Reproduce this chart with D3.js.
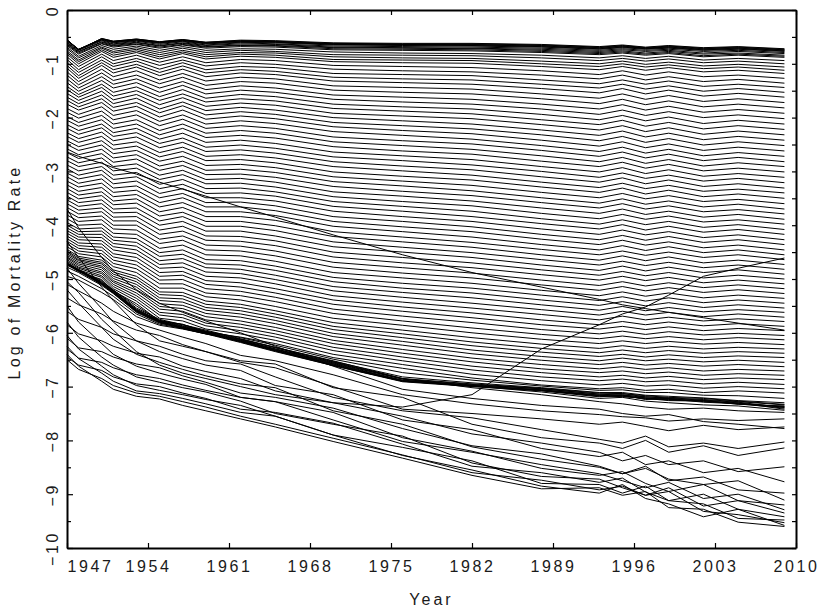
<!DOCTYPE html>
<html>
<head>
<meta charset="utf-8">
<script src="https://cdn.jsdelivr.net/npm/d3@7"></script>
<style>
body { margin: 0; background: #fff; }
text { font-family: "Liberation Sans", Arial, sans-serif; fill: #1a1a1a; }
</style>
</head>
<body>
<svg id="chart" width="820" height="614"></svg>
<script>
const years = [1947, 1948, 1950, 1951, 1953, 1955, 1957, 1959, 1962, 1965, 1970, 1976, 1982, 1988, 1993, 1995, 1997, 1999, 2002, 2005, 2009];

// one row per age, 0 .. 110
const logRates = [
  [-2.64, -2.72, -2.85, -2.93, -3.05, -3.20, -3.33, -3.46, -3.66, -3.85, -4.18, -4.55, -4.88, -5.15, -5.38, -5.48, -5.55, -5.62, -5.72, -5.82, -5.95],
  [-3.70, -4.05, -4.60, -4.85, -5.20, -5.45, -5.62, -5.78, -6.00, -6.25, -6.62, -7.05, -7.22, -7.35, -7.42, -7.50, -7.55, -7.52, -7.65, -7.70, -7.78],
  [-4.30, -4.60, -5.15, -5.40, -5.85, -6.15, -6.25, -6.35, -6.52, -6.58, -7.02, -7.20, -7.70, -7.95, -8.05, -8.15, -8.00, -8.22, -8.10, -8.28, -8.14],
  [-4.80, -5.08, -5.55, -5.80, -6.15, -6.35, -6.48, -6.60, -6.70, -6.98, -7.15, -7.62, -7.80, -8.15, -8.30, -8.22, -8.45, -8.38, -8.60, -8.52, -8.77],
  [-5.20, -5.45, -5.90, -6.12, -6.40, -6.55, -6.68, -6.80, -6.95, -7.02, -7.45, -7.70, -8.12, -8.35, -8.50, -8.62, -8.48, -8.75, -8.68, -8.92, -8.98],
  [-5.50, -5.80, -6.20, -6.40, -6.62, -6.75, -6.86, -6.96, -7.20, -7.28, -7.48, -7.95, -8.20, -8.52, -8.65, -8.58, -8.80, -8.95, -8.82, -9.12, -9.20],
  [-5.80, -6.08, -6.45, -6.60, -6.82, -6.92, -7.02, -7.10, -7.27, -7.50, -7.70, -7.92, -8.42, -8.67, -8.72, -8.88, -9.02, -8.88, -9.22, -9.12, -9.35],
  [-6.05, -6.30, -6.62, -6.78, -6.98, -7.07, -7.15, -7.24, -7.35, -7.55, -7.90, -8.13, -8.38, -8.80, -8.82, -8.98, -8.85, -9.12, -9.18, -9.45, -9.48],
  [-6.25, -6.48, -6.75, -6.90, -7.08, -7.13, -7.22, -7.32, -7.48, -7.55, -7.90, -8.28, -8.55, -8.85, -8.98, -8.82, -9.08, -9.18, -9.42, -9.28, -9.58],
  [-6.40, -6.62, -6.90, -7.05, -7.18, -7.23, -7.35, -7.45, -7.60, -7.75, -8.02, -8.33, -8.65, -8.90, -8.88, -9.02, -8.95, -9.25, -9.28, -9.52, -9.60],
  [-6.50, -6.68, -6.85, -6.98, -7.12, -7.18, -7.28, -7.38, -7.55, -7.70, -7.96, -8.27, -8.60, -8.74, -8.92, -8.85, -9.02, -8.95, -9.32, -9.38, -9.53],
  [-6.45, -6.60, -6.70, -6.82, -6.95, -7.00, -7.12, -7.22, -7.42, -7.48, -7.68, -8.07, -8.48, -8.60, -8.78, -8.70, -8.96, -9.12, -9.00, -9.28, -9.42],
  [-6.30, -6.47, -6.55, -6.65, -6.78, -6.85, -6.97, -7.07, -7.20, -7.28, -7.62, -8.02, -8.22, -8.45, -8.62, -8.75, -8.88, -8.78, -9.08, -9.00, -9.29],
  [-6.10, -6.28, -6.35, -6.45, -6.58, -6.65, -6.80, -6.92, -7.12, -7.20, -7.40, -7.78, -8.10, -8.25, -8.48, -8.62, -8.52, -8.72, -8.82, -8.75, -9.11],
  [-5.85, -6.02, -6.15, -6.25, -6.38, -6.45, -6.62, -6.72, -6.85, -7.08, -7.30, -7.55, -7.88, -8.05, -8.22, -8.38, -8.28, -8.45, -8.38, -8.58, -8.49],
  [-5.60, -5.75, -5.90, -6.02, -6.15, -6.25, -6.40, -6.52, -6.58, -6.82, -7.20, -7.45, -7.58, -7.80, -7.98, -8.05, -7.92, -8.12, -8.05, -8.15, -8.03],
  [-5.35, -5.48, -5.65, -5.78, -5.95, -6.05, -6.22, -6.35, -6.55, -6.65, -7.00, -7.42, -7.50, -7.60, -7.70, -7.66, -7.74, -7.82, -7.72, -7.80, -7.75],
  [-5.10, -5.22, -5.45, -5.60, -5.82, -5.95, -6.08, -6.20, -6.42, -6.52, -6.78, -7.15, -7.32, -7.45, -7.52, -7.56, -7.58, -7.64, -7.60, -7.63, -7.60],
  [-4.95, -5.02, -5.25, -5.38, -5.70, -5.86, -5.93, -6.02, -6.12, -6.27, -6.52, -6.85, -7.02, -7.15, -7.28, -7.32, -7.38, -7.42, -7.40, -7.45, -7.48],
  [-4.85, -4.95, -5.18, -5.32, -5.65, -5.84, -5.92, -6.02, -6.14, -6.30, -6.55, -6.86, -6.99, -7.10, -7.22, -7.20, -7.27, -7.30, -7.34, -7.36, -7.44],
  [-4.78, -4.88, -5.12, -5.27, -5.62, -5.82, -5.91, -6.01, -6.15, -6.32, -6.58, -6.89, -6.98, -7.07, -7.17, -7.17, -7.23, -7.22, -7.28, -7.31, -7.38],
  [-4.74, -4.86, -5.10, -5.26, -5.61, -5.80, -5.90, -5.99, -6.16, -6.33, -6.60, -6.90, -6.99, -7.06, -7.16, -7.19, -7.21, -7.25, -7.26, -7.33, -7.36],
  [-4.72, -4.84, -5.09, -5.24, -5.59, -5.79, -5.91, -6.01, -6.17, -6.34, -6.61, -6.91, -7.00, -7.08, -7.19, -7.16, -7.24, -7.23, -7.29, -7.32, -7.40],
  [-4.72, -4.84, -5.10, -5.26, -5.60, -5.81, -5.92, -6.02, -6.18, -6.35, -6.61, -6.90, -6.99, -7.07, -7.18, -7.18, -7.22, -7.26, -7.27, -7.30, -7.42],
  [-4.73, -4.83, -5.08, -5.23, -5.58, -5.79, -5.90, -6.00, -6.16, -6.33, -6.59, -6.89, -6.98, -7.06, -7.16, -7.15, -7.21, -7.24, -7.26, -7.32, -7.37],
  [-4.73, -4.84, -5.09, -5.25, -5.59, -5.80, -5.89, -5.99, -6.15, -6.31, -6.57, -6.88, -6.97, -7.04, -7.14, -7.16, -7.19, -7.22, -7.25, -7.29, -7.39],
  [-4.72, -4.83, -5.07, -5.22, -5.57, -5.78, -5.88, -5.98, -6.13, -6.30, -6.56, -6.86, -6.96, -7.04, -7.14, -7.13, -7.19, -7.21, -7.24, -7.28, -7.34],
  [-4.72, -4.83, -5.06, -5.22, -5.56, -5.77, -5.87, -5.97, -6.12, -6.28, -6.54, -6.85, -6.95, -7.03, -7.12, -7.13, -7.17, -7.20, -7.22, -7.27, -7.33],
  [-4.71, -4.82, -5.05, -5.20, -5.54, -5.75, -5.85, -5.95, -6.11, -6.27, -6.53, -6.82, -6.93, -7.02, -7.11, -7.11, -7.16, -7.18, -7.21, -7.26, -7.30],
  [-4.71, -4.84, -5.03, -5.21, -5.50, -5.77, -5.85, -5.97, -6.09, -6.23, -6.49, -6.74, -6.88, -6.99, -7.07, -7.06, -7.11, -7.11, -7.16, -7.17, -7.22],
  [-4.72, -4.86, -5.01, -5.22, -5.46, -5.78, -5.84, -5.99, -6.08, -6.20, -6.46, -6.66, -6.84, -6.97, -7.04, -7.02, -7.07, -7.05, -7.11, -7.08, -7.12],
  [-4.69, -4.83, -4.97, -5.18, -5.41, -5.73, -5.78, -5.93, -6.02, -6.14, -6.40, -6.59, -6.77, -6.89, -6.97, -6.94, -6.99, -6.97, -7.03, -7.00, -7.04],
  [-4.67, -4.80, -4.94, -5.14, -5.36, -5.67, -5.72, -5.87, -5.96, -6.08, -6.33, -6.52, -6.69, -6.82, -6.89, -6.86, -6.91, -6.89, -6.95, -6.92, -6.96],
  [-4.64, -4.78, -4.90, -5.10, -5.31, -5.62, -5.66, -5.82, -5.90, -6.02, -6.27, -6.45, -6.62, -6.74, -6.82, -6.79, -6.84, -6.81, -6.87, -6.84, -6.87],
  [-4.61, -4.75, -4.87, -5.06, -5.26, -5.56, -5.60, -5.76, -5.84, -5.96, -6.20, -6.38, -6.54, -6.67, -6.74, -6.71, -6.76, -6.73, -6.79, -6.76, -6.79],
  [-4.59, -4.72, -4.83, -5.03, -5.21, -5.51, -5.55, -5.70, -5.78, -5.90, -6.14, -6.31, -6.47, -6.59, -6.67, -6.63, -6.68, -6.65, -6.71, -6.68, -6.71],
  [-4.56, -4.69, -4.79, -4.99, -5.15, -5.46, -5.49, -5.64, -5.71, -5.83, -6.07, -6.23, -6.39, -6.51, -6.59, -6.55, -6.60, -6.57, -6.62, -6.59, -6.63],
  [-4.53, -4.66, -4.76, -4.95, -5.10, -5.40, -5.43, -5.58, -5.65, -5.77, -6.01, -6.16, -6.32, -6.44, -6.52, -6.47, -6.52, -6.49, -6.54, -6.51, -6.55],
  [-4.50, -4.64, -4.72, -4.91, -5.05, -5.35, -5.37, -5.53, -5.59, -5.71, -5.94, -6.09, -6.24, -6.36, -6.44, -6.40, -6.45, -6.41, -6.46, -6.43, -6.46],
  [-4.48, -4.61, -4.69, -4.87, -5.00, -5.29, -5.31, -5.47, -5.53, -5.65, -5.88, -6.02, -6.17, -6.29, -6.37, -6.32, -6.37, -6.33, -6.38, -6.35, -6.38],
  [-4.45, -4.58, -4.65, -4.83, -4.95, -5.24, -5.25, -5.41, -5.47, -5.59, -5.81, -5.95, -6.09, -6.21, -6.29, -6.24, -6.29, -6.25, -6.30, -6.27, -6.30],
  [-4.40, -4.53, -4.59, -4.77, -4.88, -5.17, -5.17, -5.33, -5.39, -5.51, -5.73, -5.86, -6.00, -6.12, -6.20, -6.15, -6.20, -6.16, -6.21, -6.18, -6.22],
  [-4.35, -4.48, -4.53, -4.71, -4.81, -5.09, -5.09, -5.26, -5.31, -5.42, -5.64, -5.78, -5.91, -6.03, -6.11, -6.06, -6.11, -6.07, -6.13, -6.09, -6.13],
  [-4.30, -4.43, -4.47, -4.65, -4.74, -5.02, -5.01, -5.18, -5.23, -5.34, -5.56, -5.69, -5.81, -5.94, -6.02, -5.97, -6.03, -5.98, -6.04, -6.01, -6.05],
  [-4.25, -4.38, -4.41, -4.59, -4.67, -4.95, -4.93, -5.10, -5.15, -5.26, -5.47, -5.60, -5.72, -5.85, -5.93, -5.88, -5.94, -5.89, -5.96, -5.92, -5.96],
  [-4.20, -4.33, -4.35, -4.53, -4.60, -4.88, -4.86, -5.03, -5.07, -5.18, -5.39, -5.52, -5.63, -5.76, -5.85, -5.79, -5.85, -5.80, -5.87, -5.83, -5.88],
  [-4.15, -4.27, -4.29, -4.46, -4.53, -4.80, -4.78, -4.95, -4.98, -5.09, -5.31, -5.43, -5.54, -5.66, -5.76, -5.69, -5.76, -5.71, -5.78, -5.74, -5.79],
  [-4.10, -4.22, -4.23, -4.40, -4.46, -4.73, -4.70, -4.87, -4.90, -5.01, -5.22, -5.34, -5.45, -5.57, -5.67, -5.60, -5.67, -5.62, -5.70, -5.65, -5.71],
  [-4.05, -4.17, -4.17, -4.34, -4.39, -4.66, -4.62, -4.79, -4.82, -4.93, -5.14, -5.25, -5.35, -5.48, -5.58, -5.51, -5.59, -5.53, -5.61, -5.57, -5.62],
  [-4.00, -4.12, -4.11, -4.28, -4.32, -4.58, -4.54, -4.72, -4.74, -4.84, -5.05, -5.17, -5.26, -5.39, -5.49, -5.42, -5.50, -5.44, -5.53, -5.48, -5.54],
  [-3.95, -4.07, -4.05, -4.22, -4.25, -4.51, -4.46, -4.64, -4.66, -4.76, -4.97, -5.08, -5.17, -5.30, -5.40, -5.33, -5.41, -5.35, -5.44, -5.39, -5.45],
  [-3.88, -4.00, -3.98, -4.15, -4.17, -4.43, -4.37, -4.55, -4.57, -4.67, -4.88, -4.98, -5.08, -5.21, -5.31, -5.24, -5.32, -5.26, -5.35, -5.30, -5.36],
  [-3.81, -3.93, -3.90, -4.07, -4.09, -4.34, -4.28, -4.46, -4.48, -4.57, -4.78, -4.89, -4.98, -5.11, -5.21, -5.14, -5.22, -5.16, -5.25, -5.20, -5.27],
  [-3.74, -3.86, -3.83, -4.00, -4.00, -4.26, -4.20, -4.37, -4.39, -4.48, -4.69, -4.79, -4.89, -5.02, -5.12, -5.05, -5.13, -5.07, -5.16, -5.11, -5.18],
  [-3.67, -3.79, -3.75, -3.92, -3.92, -4.17, -4.11, -4.28, -4.30, -4.38, -4.59, -4.70, -4.79, -4.92, -5.02, -4.95, -5.03, -4.97, -5.07, -5.02, -5.09],
  [-3.60, -3.72, -3.68, -3.85, -3.84, -4.09, -4.02, -4.20, -4.21, -4.29, -4.50, -4.60, -4.70, -4.83, -4.93, -4.86, -4.94, -4.88, -4.98, -4.93, -5.00],
  [-3.53, -3.65, -3.60, -3.77, -3.76, -4.00, -3.93, -4.11, -4.11, -4.20, -4.40, -4.50, -4.60, -4.74, -4.84, -4.76, -4.85, -4.78, -4.88, -4.83, -4.91],
  [-3.46, -3.58, -3.53, -3.70, -3.68, -3.92, -3.84, -4.02, -4.02, -4.10, -4.31, -4.41, -4.51, -4.64, -4.74, -4.67, -4.75, -4.69, -4.79, -4.74, -4.82],
  [-3.39, -3.51, -3.45, -3.62, -3.59, -3.83, -3.76, -3.93, -3.93, -4.01, -4.21, -4.31, -4.41, -4.55, -4.65, -4.57, -4.66, -4.59, -4.70, -4.65, -4.73],
  [-3.32, -3.44, -3.38, -3.55, -3.51, -3.75, -3.67, -3.84, -3.84, -3.91, -4.12, -4.22, -4.32, -4.45, -4.55, -4.48, -4.56, -4.50, -4.60, -4.55, -4.64],
  [-3.25, -3.37, -3.30, -3.47, -3.43, -3.66, -3.58, -3.75, -3.75, -3.82, -4.02, -4.12, -4.22, -4.36, -4.46, -4.38, -4.47, -4.40, -4.51, -4.46, -4.55],
  [-3.18, -3.29, -3.22, -3.39, -3.35, -3.58, -3.49, -3.66, -3.66, -3.73, -3.93, -4.03, -4.12, -4.26, -4.36, -4.28, -4.37, -4.31, -4.42, -4.37, -4.46],
  [-3.10, -3.22, -3.14, -3.31, -3.27, -3.49, -3.41, -3.58, -3.57, -3.64, -3.84, -3.93, -4.03, -4.17, -4.27, -4.19, -4.28, -4.21, -4.32, -4.27, -4.36],
  [-3.03, -3.14, -3.06, -3.23, -3.18, -3.41, -3.32, -3.49, -3.49, -3.55, -3.74, -3.84, -3.93, -4.07, -4.17, -4.09, -4.18, -4.12, -4.23, -4.18, -4.27],
  [-2.95, -3.07, -2.98, -3.15, -3.10, -3.32, -3.24, -3.41, -3.40, -3.46, -3.65, -3.74, -3.84, -3.97, -4.07, -3.99, -4.09, -4.02, -4.13, -4.08, -4.17],
  [-2.88, -2.99, -2.91, -3.07, -3.02, -3.24, -3.15, -3.32, -3.31, -3.38, -3.56, -3.65, -3.74, -3.88, -3.98, -3.90, -3.99, -3.93, -4.04, -3.99, -4.08],
  [-2.80, -2.91, -2.83, -2.99, -2.94, -3.15, -3.06, -3.23, -3.22, -3.29, -3.47, -3.56, -3.64, -3.78, -3.88, -3.80, -3.89, -3.83, -3.94, -3.90, -3.98],
  [-2.73, -2.84, -2.75, -2.91, -2.86, -3.07, -2.98, -3.15, -3.13, -3.20, -3.38, -3.46, -3.55, -3.68, -3.78, -3.70, -3.80, -3.74, -3.85, -3.80, -3.89],
  [-2.65, -2.76, -2.67, -2.83, -2.77, -2.98, -2.89, -3.06, -3.05, -3.11, -3.28, -3.37, -3.45, -3.58, -3.68, -3.60, -3.70, -3.64, -3.75, -3.71, -3.79],
  [-2.58, -2.69, -2.59, -2.75, -2.69, -2.90, -2.81, -2.98, -2.96, -3.02, -3.19, -3.27, -3.36, -3.49, -3.59, -3.51, -3.61, -3.55, -3.66, -3.61, -3.70],
  [-2.50, -2.61, -2.51, -2.67, -2.61, -2.81, -2.72, -2.89, -2.87, -2.93, -3.10, -3.18, -3.26, -3.39, -3.49, -3.41, -3.51, -3.45, -3.56, -3.52, -3.60],
  [-2.43, -2.54, -2.43, -2.59, -2.53, -2.73, -2.63, -2.80, -2.78, -2.84, -3.01, -3.09, -3.16, -3.29, -3.39, -3.31, -3.42, -3.35, -3.47, -3.42, -3.50],
  [-2.35, -2.46, -2.35, -2.51, -2.45, -2.65, -2.55, -2.72, -2.69, -2.75, -2.91, -2.99, -3.07, -3.20, -3.30, -3.22, -3.32, -3.26, -3.37, -3.33, -3.40],
  [-2.28, -2.39, -2.27, -2.43, -2.36, -2.56, -2.46, -2.63, -2.60, -2.66, -2.82, -2.90, -2.97, -3.10, -3.20, -3.12, -3.23, -3.16, -3.28, -3.23, -3.31],
  [-2.20, -2.31, -2.19, -2.35, -2.28, -2.48, -2.38, -2.55, -2.51, -2.57, -2.73, -2.80, -2.88, -3.00, -3.11, -3.03, -3.13, -3.07, -3.18, -3.13, -3.21],
  [-2.13, -2.24, -2.12, -2.28, -2.20, -2.40, -2.29, -2.46, -2.42, -2.48, -2.64, -2.71, -2.78, -2.91, -3.01, -2.93, -3.04, -2.97, -3.09, -3.04, -3.11],
  [-2.05, -2.16, -2.04, -2.20, -2.12, -2.32, -2.20, -2.37, -2.33, -2.38, -2.54, -2.62, -2.68, -2.81, -2.91, -2.83, -2.94, -2.87, -2.99, -2.94, -3.01],
  [-1.98, -2.09, -1.96, -2.12, -2.04, -2.24, -2.12, -2.29, -2.24, -2.29, -2.45, -2.52, -2.59, -2.71, -2.82, -2.74, -2.85, -2.78, -2.90, -2.84, -2.91],
  [-1.90, -2.01, -1.88, -2.04, -1.95, -2.15, -2.03, -2.20, -2.15, -2.20, -2.36, -2.43, -2.49, -2.61, -2.72, -2.64, -2.75, -2.68, -2.80, -2.74, -2.82],
  [-1.83, -1.94, -1.80, -1.96, -1.87, -2.07, -1.95, -2.12, -2.06, -2.11, -2.26, -2.33, -2.40, -2.52, -2.63, -2.55, -2.66, -2.59, -2.71, -2.65, -2.72],
  [-1.75, -1.86, -1.72, -1.88, -1.79, -1.99, -1.86, -2.03, -1.97, -2.02, -2.17, -2.24, -2.30, -2.42, -2.53, -2.45, -2.56, -2.49, -2.61, -2.55, -2.62],
  [-1.68, -1.80, -1.65, -1.81, -1.72, -1.91, -1.78, -1.95, -1.89, -1.94, -2.09, -2.15, -2.21, -2.32, -2.43, -2.35, -2.46, -2.39, -2.51, -2.45, -2.52],
  [-1.62, -1.74, -1.58, -1.74, -1.64, -1.84, -1.71, -1.87, -1.81, -1.86, -2.00, -2.06, -2.12, -2.23, -2.33, -2.25, -2.36, -2.29, -2.41, -2.35, -2.42],
  [-1.55, -1.68, -1.51, -1.67, -1.57, -1.76, -1.63, -1.79, -1.73, -1.77, -1.92, -1.97, -2.02, -2.13, -2.23, -2.15, -2.26, -2.19, -2.31, -2.25, -2.32],
  [-1.48, -1.62, -1.44, -1.60, -1.50, -1.68, -1.56, -1.71, -1.65, -1.69, -1.83, -1.88, -1.93, -2.04, -2.13, -2.05, -2.16, -2.09, -2.21, -2.15, -2.22],
  [-1.42, -1.57, -1.38, -1.53, -1.43, -1.61, -1.48, -1.64, -1.57, -1.61, -1.75, -1.80, -1.84, -1.94, -2.04, -1.96, -2.06, -1.99, -2.11, -2.05, -2.12],
  [-1.35, -1.51, -1.31, -1.45, -1.35, -1.53, -1.40, -1.56, -1.49, -1.53, -1.66, -1.71, -1.75, -1.84, -1.94, -1.86, -1.96, -1.89, -2.00, -1.95, -2.02],
  [-1.28, -1.45, -1.24, -1.38, -1.28, -1.45, -1.33, -1.48, -1.41, -1.45, -1.58, -1.62, -1.66, -1.75, -1.84, -1.76, -1.86, -1.79, -1.90, -1.85, -1.92],
  [-1.21, -1.39, -1.17, -1.31, -1.21, -1.37, -1.25, -1.40, -1.33, -1.36, -1.49, -1.53, -1.56, -1.65, -1.74, -1.66, -1.76, -1.69, -1.80, -1.75, -1.82],
  [-1.15, -1.33, -1.10, -1.24, -1.13, -1.30, -1.18, -1.32, -1.25, -1.28, -1.41, -1.44, -1.47, -1.56, -1.64, -1.56, -1.66, -1.59, -1.70, -1.65, -1.72],
  [-1.08, -1.27, -1.03, -1.17, -1.06, -1.22, -1.10, -1.24, -1.17, -1.20, -1.32, -1.35, -1.38, -1.46, -1.54, -1.46, -1.56, -1.49, -1.60, -1.55, -1.62],
  [-1.03, -1.22, -0.98, -1.11, -1.01, -1.16, -1.04, -1.17, -1.11, -1.14, -1.25, -1.28, -1.30, -1.38, -1.45, -1.38, -1.47, -1.41, -1.51, -1.46, -1.53],
  [-0.98, -1.16, -0.93, -1.05, -0.95, -1.10, -0.98, -1.11, -1.05, -1.07, -1.18, -1.20, -1.22, -1.30, -1.37, -1.30, -1.38, -1.32, -1.42, -1.38, -1.44],
  [-0.92, -1.11, -0.87, -1.00, -0.90, -1.03, -0.93, -1.04, -0.98, -1.01, -1.10, -1.13, -1.15, -1.21, -1.28, -1.21, -1.30, -1.24, -1.33, -1.29, -1.36],
  [-0.87, -1.05, -0.82, -0.94, -0.84, -0.97, -0.87, -0.98, -0.92, -0.94, -1.03, -1.05, -1.07, -1.13, -1.20, -1.13, -1.21, -1.15, -1.24, -1.21, -1.27],
  [-0.82, -1.00, -0.77, -0.88, -0.79, -0.91, -0.81, -0.91, -0.86, -0.88, -0.96, -0.98, -0.99, -1.05, -1.11, -1.05, -1.12, -1.07, -1.15, -1.12, -1.18],
  [-0.79, -0.96, -0.74, -0.84, -0.76, -0.87, -0.78, -0.87, -0.82, -0.84, -0.92, -0.93, -0.94, -1.00, -1.05, -1.00, -1.06, -1.02, -1.09, -1.06, -1.12],
  [-0.76, -0.93, -0.71, -0.80, -0.73, -0.83, -0.75, -0.83, -0.79, -0.80, -0.87, -0.89, -0.90, -0.95, -1.00, -0.95, -1.01, -0.97, -1.04, -1.01, -1.06],
  [-0.72, -0.89, -0.69, -0.77, -0.70, -0.79, -0.71, -0.79, -0.75, -0.77, -0.83, -0.84, -0.85, -0.89, -0.94, -0.90, -0.95, -0.91, -0.98, -0.95, -1.00],
  [-0.69, -0.86, -0.66, -0.73, -0.67, -0.75, -0.68, -0.75, -0.72, -0.73, -0.78, -0.80, -0.81, -0.84, -0.89, -0.85, -0.90, -0.86, -0.93, -0.90, -0.94],
  [-0.66, -0.82, -0.63, -0.69, -0.64, -0.71, -0.65, -0.71, -0.68, -0.69, -0.74, -0.75, -0.76, -0.79, -0.83, -0.80, -0.84, -0.81, -0.87, -0.84, -0.88],
  [-0.64, -0.80, -0.62, -0.67, -0.63, -0.69, -0.64, -0.69, -0.66, -0.67, -0.72, -0.73, -0.74, -0.77, -0.81, -0.78, -0.82, -0.79, -0.85, -0.82, -0.86],
  [-0.63, -0.78, -0.60, -0.66, -0.61, -0.67, -0.62, -0.68, -0.65, -0.66, -0.70, -0.71, -0.72, -0.75, -0.79, -0.76, -0.80, -0.77, -0.82, -0.80, -0.84],
  [-0.61, -0.77, -0.59, -0.64, -0.60, -0.66, -0.61, -0.66, -0.63, -0.64, -0.69, -0.70, -0.71, -0.73, -0.77, -0.74, -0.77, -0.75, -0.80, -0.77, -0.81],
  [-0.60, -0.75, -0.57, -0.63, -0.58, -0.64, -0.59, -0.65, -0.61, -0.63, -0.67, -0.68, -0.69, -0.71, -0.75, -0.72, -0.75, -0.73, -0.77, -0.75, -0.79],
  [-0.58, -0.73, -0.56, -0.61, -0.57, -0.62, -0.58, -0.63, -0.60, -0.61, -0.65, -0.66, -0.67, -0.69, -0.73, -0.70, -0.73, -0.71, -0.75, -0.73, -0.77],
  [-0.57, -0.73, -0.55, -0.60, -0.56, -0.61, -0.57, -0.62, -0.59, -0.60, -0.64, -0.65, -0.66, -0.68, -0.72, -0.69, -0.72, -0.70, -0.74, -0.72, -0.76],
  [-0.56, -0.73, -0.54, -0.59, -0.55, -0.60, -0.56, -0.61, -0.58, -0.59, -0.63, -0.64, -0.65, -0.67, -0.71, -0.68, -0.71, -0.69, -0.73, -0.71, -0.75],
  [-0.56, -0.74, -0.54, -0.59, -0.55, -0.60, -0.56, -0.61, -0.58, -0.59, -0.63, -0.64, -0.64, -0.66, -0.70, -0.67, -0.71, -0.68, -0.72, -0.70, -0.74],
  [-0.55, -0.74, -0.53, -0.58, -0.54, -0.59, -0.55, -0.60, -0.57, -0.58, -0.62, -0.63, -0.63, -0.65, -0.69, -0.66, -0.70, -0.67, -0.71, -0.69, -0.73],
  [-0.55, -0.74, -0.53, -0.58, -0.54, -0.59, -0.55, -0.60, -0.56, -0.57, -0.61, -0.62, -0.62, -0.64, -0.68, -0.65, -0.69, -0.66, -0.70, -0.68, -0.72]
];

// the one curve that climbs across the others after 1982
const risingSeries = [-5.05, -5.25, -5.75, -5.95, -6.35, -6.60, -6.75, -6.85, -7.00, -7.15, -7.30, -7.38, -7.15, -6.30, -5.85, -5.65, -5.52, -5.30, -4.95, -4.80, -4.61];

const xTicks = [1947, 1954, 1961, 1968, 1975, 1982, 1989, 1996, 2003, 2010];
const yTicks = [0, -1, -2, -3, -4, -5, -6, -7, -8, -9, -10];
const yMinorTicks = [-0.5, -1.5, -2.5, -3.5, -4.5, -5.5, -6.5, -7.5, -8.5, -9.5];

const margin = {left: 67, right: 24, top: 10, bottom: 66};
const width = 820, height = 614;

const svg = d3.select("#chart");
const x = d3.scaleLinear().domain([1947, 2010]).range([margin.left, width - margin.right]);
const y = d3.scaleLinear().domain([0, -10]).range([margin.top, height - margin.bottom]);

const line = d3.line()
    .x((d, i) => x(years[i]))
    .y(d => y(d));

svg.append("g")
    .selectAll("path")
    .data(logRates.concat([risingSeries]))
    .enter().append("path")
    .attr("d", line)
    .attr("fill", "none")
    .attr("stroke", "#000")
    .attr("stroke-width", 1);

function styleAxis(g) {
    g.select(".domain").attr("stroke", "#000").attr("stroke-width", 2);
    g.selectAll(".tick line").attr("stroke", "#000").attr("stroke-width", 1.2);
    g.selectAll("text")
        .style("font-family", "'Liberation Sans', Arial, sans-serif")
        .style("font-size", "16px")
        .style("letter-spacing", "2.6px")
        .attr("fill", "#1a1a1a");
}

// bottom axis
const axisB = svg.append("g")
    .attr("transform", "translate(0," + y(-10) + ")")
    .call(d3.axisBottom(x).tickValues(xTicks).tickFormat(d3.format("d")).tickSizeInner(-5).tickSizeOuter(0).tickPadding(13));
styleAxis(axisB);
axisB.selectAll(".tick text").filter(d => d === 1947).attr("dx", 23);

// top axis
const axisT = svg.append("g")
    .attr("transform", "translate(0," + y(0) + ")")
    .call(d3.axisTop(x).tickValues(xTicks).tickFormat("").tickSizeInner(-5).tickSizeOuter(0));
styleAxis(axisT);

// left axis, labels turned on their side
const axisL = svg.append("g")
    .attr("transform", "translate(" + x(1947) + ",0)")
    .call(d3.axisLeft(y).tickValues(yTicks).tickSizeInner(-6).tickSizeOuter(0));
styleAxis(axisL);
axisL.selectAll(".tick text")
    .attr("x", null)
    .attr("dy", "0.35em")
    .attr("text-anchor", "middle")
    .attr("transform", "translate(-15,0) rotate(-90)");

svg.append("g")
    .attr("transform", "translate(" + x(1947) + ",0)")
    .call(d3.axisLeft(y).tickValues(yMinorTicks).tickFormat("").tickSizeInner(-4).tickSizeOuter(0))
    .call(g => g.select(".domain").remove())
    .call(g => g.selectAll(".tick line").attr("stroke", "#000").attr("stroke-width", 1.2));

// right axis
const axisR = svg.append("g")
    .attr("transform", "translate(" + x(2010) + ",0)")
    .call(d3.axisRight(y).tickValues(yTicks.concat(yMinorTicks)).tickFormat("").tickSizeInner(-4).tickSizeOuter(0));
styleAxis(axisR);

// axis titles
svg.append("text")
    .attr("x", (x(1947) + x(2010)) / 2)
    .attr("y", 605)
    .attr("text-anchor", "middle")
    .style("font-size", "16px")
    .style("letter-spacing", "3px")
    .text("Year");

svg.append("text")
    .attr("transform", "translate(20," + 272 + ") rotate(-90)")
    .attr("text-anchor", "middle")
    .style("font-size", "16px")
    .style("letter-spacing", "3.2px")
    .text("Log of Mortality Rate");
</script>
</body>
</html>
